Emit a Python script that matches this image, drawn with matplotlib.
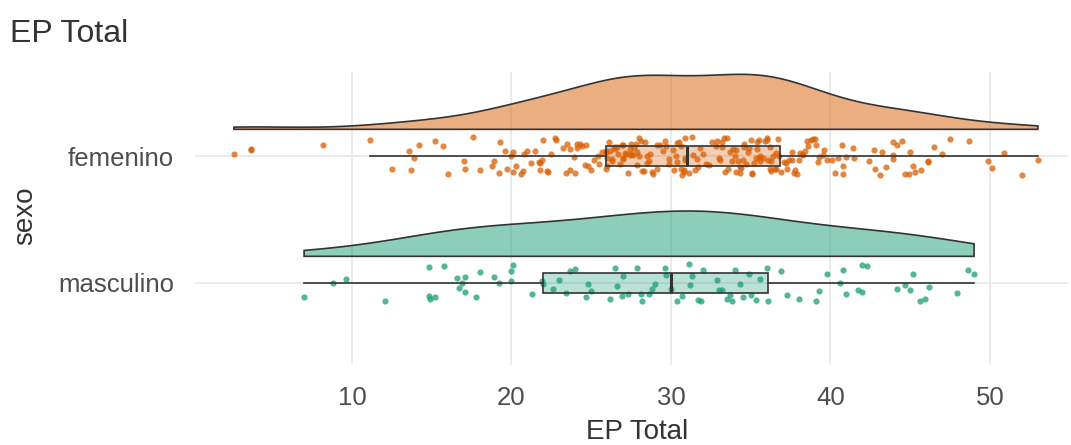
import numpy as np
import matplotlib
matplotlib.use('Agg')
import matplotlib.pyplot as plt
from matplotlib.patches import Polygon
from matplotlib.colors import to_rgba

# ---------------- data ----------------
categories = ['masculino', 'femenino']
colors = {'femenino': '#D95F02', 'masculino': '#1B9E77'}

femenino = [
    2.6, 3.7, 3.7, 8.2, 11.1, 12.5, 13.6, 13.7, 13.9, 14.2, 15.2, 15.7, 16.0, 17.0, 17.1, 17.6, 18.0,
    18.8, 18.9, 19.2, 19.3, 19.6, 19.7,
    20.0, 20.1, 20.1, 20.3, 20.6, 20.7, 20.8, 21.0, 21.2, 21.5, 21.7, 21.8, 21.8, 21.9, 22.0, 22.2,
    22.3, 22.5, 22.7, 22.8, 23.2, 23.4, 23.5, 23.7, 23.7, 23.9, 24.0, 24.1, 24.1, 24.3, 24.4, 24.6,
    24.7, 24.8, 25.0, 25.2, 25.4, 25.5, 25.7,
    25.9, 26.0, 26.2, 26.3, 26.4, 26.8, 27.0, 27.0, 27.2, 27.4, 27.6, 27.9, 28.0, 28.3, 28.5, 28.7,
    28.9, 29.1, 29.1, 29.3, 29.5, 29.6, 29.7, 29.9, 30.1, 30.4, 30.6, 30.9,
    25.9, 26.1, 26.5, 26.6, 26.7, 26.9, 27.0, 27.1, 27.3, 27.5, 27.5, 27.7, 27.8, 28.0, 28.1, 28.2,
    28.4, 28.6, 28.8, 25.9, 26.0, 26.3, 30.4, 30.8, 27.9, 29.9, 27.4, 28.5, 30.2, 30.3, 30.5, 30.6,
    30.7, 30.8, 30.9, 30.9,
    31.1, 31.3, 31.4, 31.5, 31.6, 31.7, 31.8, 32.0, 32.2, 32.4, 32.6, 32.8, 33.0, 33.1, 33.2, 33.3,
    33.4, 33.6, 33.8, 34.0, 34.1, 34.3, 34.3, 34.5, 34.6, 34.8, 35.1, 35.1, 35.3, 35.4, 35.5, 35.6,
    35.9, 36.0, 36.1, 36.2, 36.3, 36.5, 36.6, 36.9,
    34.1, 34.6, 35.0, 35.5, 36.3, 32.9, 33.2, 33.5, 33.7, 33.9, 34.2, 34.4, 34.7, 34.9, 35.2, 35.4,
    35.6, 35.8, 36.0, 36.2, 36.4, 36.6, 36.7, 36.8,
    37.1, 37.3, 37.6, 37.6, 37.8, 37.9, 38.0, 38.1, 38.3, 38.5, 38.8, 39.0, 39.1, 39.3, 39.5, 39.8,
    40.1, 40.3, 40.7, 40.8, 40.8, 41.0, 41.4, 41.5, 42.4, 42.7, 42.8, 43.1, 43.2, 43.9, 43.9, 43.9,
    44.2, 44.7, 44.9, 45.0, 45.2, 45.3, 45.7, 46.1, 46.1, 47.0, 48.7, 49.9, 50.1, 50.9, 52.0, 53.0,
    37.2, 37.4, 37.7, 38.2, 38.4, 38.6, 38.9, 39.2, 39.6, 40.5,
    43.5, 44.5, 46.5, 47.5,
]

masculino = [
    7.0, 8.8, 9.6, 12.1, 14.8, 14.8, 14.9, 15.2, 15.8, 16.6, 16.7, 16.9, 17.1, 17.1, 17.8, 18.0,
    18.9, 19.2, 20.0, 20.0, 20.1, 21.3, 21.9,
    22.0, 22.6, 23.0, 23.4, 23.7, 24.0, 24.7, 24.8, 25.0, 26.2, 26.5, 26.6, 26.9, 27.0, 27.3, 27.9,
    28.1, 28.2, 28.6, 28.8, 29.0, 29.6, 29.7,
    30.0, 30.4, 30.7, 31.1, 31.2, 31.3, 31.7, 31.9, 32.0, 32.9, 33.0, 33.2, 33.5, 33.7, 33.8, 34.0,
    34.3, 34.5, 34.9, 35.0, 35.3, 35.6, 36.0,
    36.1, 36.9, 37.3, 38.0, 39.1, 39.3, 39.8, 40.6, 40.8, 41.0, 41.7, 42.0, 42.0, 42.3, 44.2, 44.7,
    45.0, 45.2, 45.6, 45.9, 46.2, 47.9, 48.6, 49.0,
]

groups = {'masculino': masculino, 'femenino': femenino}
x_ticks = [10, 20, 30, 40, 50]
title = 'EP Total'
x_label = 'EP Total'
y_label = 'sexo'

# ---------------- style ----------------
plt.rcParams['font.family'] = ['Liberation Sans', 'DejaVu Sans']
TXT_DARK = '#333333'
TXT_TICK = '#4D4D4D'
OUTLINE = '#333333'
GRID = '#EBEBEB'

W, H = 1071, 445
fig = plt.figure(figsize=(W / 100, H / 100), dpi=100)
px_l, px_r, px_t, px_b = 195, 1068, 72, 365
ax = fig.add_axes([px_l / W, 1 - px_b / H, (px_r - px_l) / W, (px_b - px_t) / H])


def kde(vals, n=512, adjust=1.15):
    v = np.asarray(vals, float)
    sd = v.std(ddof=1)
    q75, q25 = np.percentile(v, [75, 25])
    bw = adjust * 0.9 * min(sd, (q75 - q25) / 1.34) * len(v) ** -0.2
    grid = np.linspace(v.min(), v.max(), n)
    dens = np.exp(-0.5 * ((grid[:, None] - v[None, :]) / bw) ** 2).sum(1) / (len(v) * bw * np.sqrt(2 * np.pi))
    return grid, dens


dens_all = {k: kde(v) for k, v in groups.items()}
gmax = max(d.max() for _, d in dens_all.values())
max_height = 0.433
nudge = 0.21
rng = np.random.default_rng(11)

for i, cat in enumerate(categories):
    pos = i + 1
    vals = np.asarray(groups[cat], float)
    col = colors[cat]
    # half violin (density)
    g, d = dens_all[cat]
    base = pos + nudge
    top = base + d / gmax * max_height
    verts = [(g[0], base)] + list(zip(g, top)) + [(g[-1], base)]
    ax.add_patch(Polygon(verts, closed=True, facecolor=to_rgba(col, 0.5),
                         edgecolor=OUTLINE, lw=1.2, zorder=2))
    # jittered points
    jit = rng.uniform(-0.15, 0.15, len(vals))
    ax.scatter(vals, pos + jit, s=20, color=col, alpha=0.75, linewidths=0, zorder=3)

bp = ax.boxplot([groups[c] for c in categories], positions=[1, 2], orientation='horizontal',
                widths=0.165, showfliers=False, showcaps=False, patch_artist=True, whis=1.5,
                boxprops=dict(edgecolor=OUTLINE, lw=1.2),
                medianprops=dict(color=OUTLINE, lw=2.2),
                whiskerprops=dict(color=OUTLINE, lw=1.2), zorder=4)
for patch, cat in zip(bp['boxes'], categories):
    patch.set_facecolor(to_rgba(colors[cat], 0.3))

ax.set_xlim(0.16, 54.89)
ax.set_ylim(1 - (px_b - 283) / 127, 2 + (156 - px_t) / 127)
ax.set_xticks(x_ticks)
ax.set_xticklabels([str(t) for t in x_ticks])
ax.set_yticks([1, 2])
ax.set_yticklabels(categories)
ax.tick_params(axis='both', length=0, labelsize=18.5, colors=TXT_TICK)
ax.tick_params(axis='x', pad=15)
ax.tick_params(axis='y', pad=15)
for s in ax.spines.values():
    s.set_visible(False)
ax.grid(True, color=GRID, lw=1.4, zorder=0)
ax.set_axisbelow(True)

fig.text(10 / W, 1 - 42 / H, title, ha='left', va='baseline', fontsize=23, color=TXT_DARK)
fig.text(637 / W, 1 - 439 / H, x_label, ha='center', va='baseline', fontsize=20, color=TXT_DARK)
fig.text(25 / W, 1 - 216 / H, y_label, ha='center', va='center', rotation=90, fontsize=20, color=TXT_DARK)

fig.savefig('out.png', dpi=100)
